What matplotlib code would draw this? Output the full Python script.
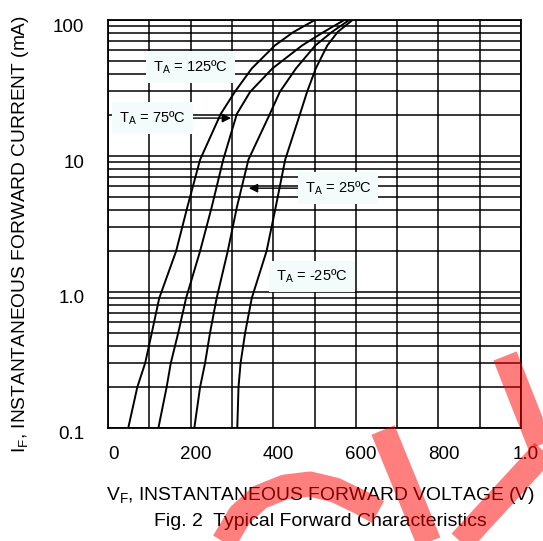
import matplotlib
matplotlib.use('Agg')
import matplotlib.pyplot as plt
import matplotlib.transforms as mtransforms
from matplotlib.lines import Line2D
from matplotlib.ticker import LogLocator, NullFormatter, FixedLocator

plt.rcParams['font.family'] = ['Liberation Sans', 'DejaVu Sans']
plt.rcParams['mathtext.fontset'] = 'custom'
plt.rcParams['mathtext.rm'] = 'Liberation Sans'

# forward current points (mA), shared by all curves
current = [0.1, 0.2, 0.3, 0.5, 0.9, 2.0, 4.2, 9.4, 20.4, 29.6, 44, 65, 81.6, 100]
# forward voltage
v_125 = [49, 71, 90, 106, 124, 165, 192, 223, 273, 307, 348, 404, 449, 501]
v_75 = [122, 142, 152, 170, 189, 223, 251, 279, 312, 344, 398, 470, 522, 572]
v_25 = [209, 223, 235, 247, 263, 290, 312, 340, 392, 416, 455, 502, 542, 584]
v_m25 = [313, 316, 321, 332, 348, 384, 406, 429, 465, 482, 503, 531, 556, 592]

x_ticks = [0, 200, 400, 600, 800, 1000]
x_ticklabels = ['0', '200', '400', '600', '800', '1.0']
y_ticks = [0.1, 1, 10, 100]
y_ticklabels = ['0.1', '1.0', '10', '100']

fig = plt.figure(figsize=(5.43, 5.41), dpi=100)
ax = fig.add_axes([0.1989, 0.2089, 0.7606, 0.7541])

ax.set_yscale('log')
ax.set_xlim(0, 1000)
ax.set_ylim(0.1, 100)

for v in (v_125, v_75, v_25, v_m25):
    ax.plot(v, current, color='black', lw=1.4, zorder=2)

# grid
ax.xaxis.set_major_locator(FixedLocator(x_ticks))
ax.xaxis.set_minor_locator(FixedLocator(list(range(100, 1000, 200))))
ax.set_xticklabels(x_ticklabels)
ax.yaxis.set_major_locator(FixedLocator(y_ticks))
ax.yaxis.set_minor_locator(LogLocator(base=10, subs=range(2, 10)))
ax.yaxis.set_minor_formatter(NullFormatter())
ax.set_yticklabels(y_ticklabels)
ax.grid(True, which='both', color='black', lw=1.1, zorder=1)
ax.set_axisbelow(True)
for s in ax.spines.values():
    s.set_linewidth(1.3)

ax.tick_params(which='both', length=0)
ax.tick_params(axis='x', labelsize=13.5, pad=13)
ax.tick_params(axis='y', labelsize=13.5, pad=17)
for lbl in ax.get_xticklabels():
    lbl.set_transform(lbl.get_transform() +
                      mtransforms.ScaledTranslation(5/100, 0, fig.dpi_scale_trans))
for lbl in ax.get_yticklabels():
    lbl.set_transform(lbl.get_transform() +
                      mtransforms.ScaledTranslation(0, -5/100, fig.dpi_scale_trans))

box = dict(facecolor='#f4fbfb', edgecolor='none', pad=5)
ax.text(199, 45.4, r'T$_\mathregular{A}$ = 125ºC', fontsize=10.5,
        ha='center', va='center', bbox=box, zorder=4)
ax.annotate(r'T$_\mathregular{A}$ = 75ºC', xy=(298, 19.0), xytext=(107, 19.0),
            fontsize=10.5, ha='center', va='center', bbox=box, zorder=4,
            arrowprops=dict(arrowstyle='-|>', color='black', lw=1.0,
                            mutation_scale=13, shrinkA=0, shrinkB=0))
ax.annotate(r'T$_\mathregular{A}$ = 25ºC', xy=(341, 5.8), xytext=(557, 5.8),
            fontsize=10.5, ha='center', va='center', bbox=box, zorder=4,
            arrowprops=dict(arrowstyle='-|>', color='black', lw=1.0,
                            mutation_scale=13, shrinkA=0, shrinkB=0))
ax.text(494, 1.3, r'T$_\mathregular{A}$ = -25ºC', fontsize=10.5,
        ha='center', va='center', bbox=box, zorder=4)

fig.text(21/543, 1 - 234/541,
         r'I$_\mathregular{F}$, INSTANTANEOUS FORWARD CURRENT (mA)',
         rotation=90, ha='center', va='center', fontsize=13.8)
fig.text(321/543, 1 - 495/541,
         r'V$_\mathregular{F}$, INSTANTANEOUS FORWARD VOLTAGE (V)',
         ha='center', va='center', fontsize=13.9)
fig.text(320/543, 1 - 521/541, 'Fig. 2  Typical Forward Characteristics',
         ha='center', va='center', fontsize=14)

# red watermark strokes over the figure
def stroke(xs, ys):
    fig.add_artist(Line2D([x / 543 for x in xs], [1 - y / 541 for y in ys],
                          transform=fig.transFigure, color='red', alpha=0.5,
                          lw=18, solid_capstyle='butt', zorder=10))

stroke([222, 240, 260, 285, 310, 335, 360, 378], [545, 515, 497, 487, 484, 490, 502, 512])
stroke([383, 430], [430, 545])
stroke([505, 540], [356, 445])
stroke([548, 458], [447, 545])

fig.savefig('out.png', dpi=100, facecolor='white')
